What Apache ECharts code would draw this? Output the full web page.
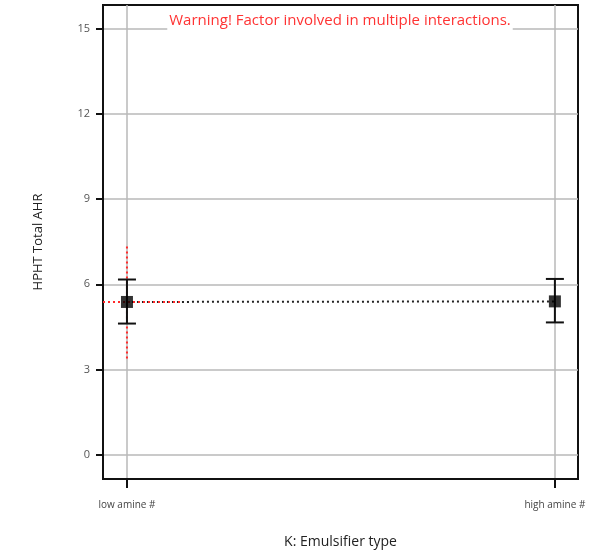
<!DOCTYPE html>
<html>
<head>
<meta charset="utf-8">
<script src="https://cdn.jsdelivr.net/npm/echarts@6/dist/echarts.min.js"></script>
<style>
  html, body { margin: 0; padding: 0; background: #fff; }
  #chart { width: 603px; height: 554px; }
</style>
</head>
<body>
<div id="chart"></div>
<script>
// K: Emulsifier type levels
var categories = ['low amine #', 'high amine #'];
var means = [5.38, 5.40];
var lower = [4.62, 4.66];
var upper = [6.17, 6.19];
// LSD band at first level (red dotted)
var lsdLow = 3.39, lsdHigh = 7.42;
var yTicks = [0, 3, 6, 9, 12, 15];
var warning = 'Warning! Factor involved in multiple interactions.';

(function(window){
    var chart = echarts.init(document.getElementById('chart'));
    var font = '"Open Sans", "Noto Sans", sans-serif';
    var xMin = -0.056, xMax = 1.054;

    var meanData = means.map(function(v, i){ return [i, v]; });
    var errData = means.map(function(v, i){ return [i, lower[i], upper[i]]; });

    var option = {
        backgroundColor: '#fff',
        animation: false,
        graphic: [{
            type: 'text',
            x: 340, y: 21,
            z: 100,
            style: {
                text: warning,
                fill: '#ff3333',
                fontSize: 15,
                fontFamily: font,
                align: 'center',
                verticalAlign: 'middle',
                backgroundColor: '#fff',
                padding: [2, 2, 2, 2]
            }
        }],
        grid: {
            left: 103, right: 25, top: 5, bottom: 73,
            show: true, borderColor: '#111', borderWidth: 2, backgroundColor: 'transparent'
        },
        xAxis: {
            type: 'value',
            min: xMin, max: xMax,
            name: 'K: Emulsifier type',
            nameLocation: 'middle',
            nameGap: 56,
            nameTextStyle: { color: '#222', fontSize: 14, fontFamily: font },
            axisLine: { show: true, onZero: false, lineStyle: { color: '#111', width: 2 } },
            axisTick: { show: true, customValues: [0, 1], length: 9, lineStyle: { color: '#111', width: 2 } },
            axisLabel: {
                customValues: [0, 1],
                margin: 21,
                color: '#444', fontSize: 10, fontFamily: font,
                formatter: function(v){ return categories[Math.round(v)] || ''; }
            },
            splitLine: { show: true, lineStyle: { color: '#b8b8b8', width: 1.5 } }
        },
        yAxis: {
            type: 'value',
            min: -0.85, max: 15.83,
            name: 'HPHT Total AHR',
            nameLocation: 'middle',
            nameGap: 58,
            nameTextStyle: { color: '#222', fontSize: 13, fontFamily: font },
            axisLine: { show: true, onZero: false, lineStyle: { color: '#111', width: 2 } },
            axisTick: { show: true, inside: false, customValues: yTicks, length: 7, lineStyle: { color: '#111', width: 2 } },
            axisLabel: {
                customValues: yTicks,
                margin: 13,
                color: '#555', fontSize: 11, fontFamily: font
            },
            splitLine: { show: true, lineStyle: { color: '#b8b8b8', width: 1.5 } }
        },
        series: [
            {
                type: 'line',
                data: [[xMin, means[0]], [0.13, means[0]]],
                symbol: 'none',
                lineStyle: { color: '#ff2a2a', width: 2, type: [2, 3] },
                z: 3
            },
            {
                type: 'line',
                data: [[0, lsdLow], [0, lsdHigh]],
                symbol: 'none',
                lineStyle: { color: '#ff2a2a', width: 2, type: [2, 3] },
                z: 3
            },
            {
                type: 'line',
                data: meanData,
                symbol: 'none',
                lineStyle: { color: '#222', width: 2, type: [2, 3] },
                z: 2
            },
            {
                type: 'custom',
                data: errData,
                z: 4,
                renderItem: function(params, api){
                    var x = api.value(0);
                    var lo = api.coord([x, api.value(1)]);
                    var hi = api.coord([x, api.value(2)]);
                    var hw = 9;
                    var st = { stroke: '#111', lineWidth: 2 };
                    return {
                        type: 'group',
                        children: [
                            { type: 'line', shape: { x1: lo[0], y1: lo[1], x2: hi[0], y2: hi[1] }, style: st },
                            { type: 'line', shape: { x1: lo[0] - hw, y1: lo[1], x2: lo[0] + hw, y2: lo[1] }, style: st },
                            { type: 'line', shape: { x1: hi[0] - hw, y1: hi[1], x2: hi[0] + hw, y2: hi[1] }, style: st }
                        ]
                    };
                }
            },
            {
                type: 'scatter',
                data: meanData,
                symbol: 'rect',
                symbolSize: 12,
                itemStyle: { color: '#000' },
                z: 5
            }
        ]
    };
    chart.setOption(option);
})(window);
</script>
</body>
</html>
